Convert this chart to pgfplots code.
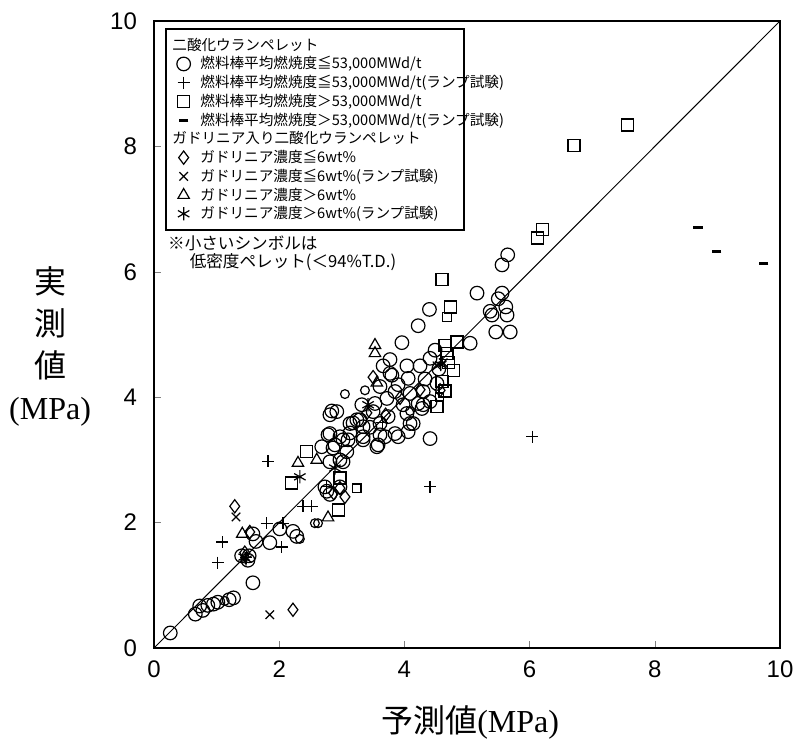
\documentclass[border=0pt]{standalone}
\usepackage{fontspec}
\setmainfont{Liberation Serif}
\newfontfamily\jp{Noto Sans CJK JP}
\newfontfamily\tickfont{Liberation Sans}
\usepackage{pgfplots}
\pgfplotsset{compat=1.18}
\newcommand\lgd[1]{\makebox[128pt][l]{#1}}

\begin{document}
\begin{tikzpicture}
\begin{axis}[
  name=ax, scale only axis, width=313pt, height=313.5pt,
  xmin=0, xmax=10, ymin=0, ymax=10,
  xtick={0,2,...,10}, ytick={0,2,...,10},
  tick pos=left, tick align=inside, major tick length=3.5pt,
  axis line style={line width=0.9pt},
  /pgf/number format/assume math mode=true,
  tick label style={font=\tickfont\fontsize{12}{14}\selectfont},
  xticklabel style={yshift=-3pt},
  yticklabel style={xshift=-5pt},
  xlabel={\jp 予測値\rmfamily(MPa)},
  ylabel={\begin{tabular}{@{}c@{}}\jp 実\\\jp 測\\\jp 値\\(MPa)\end{tabular}},
  label style={font=\fontsize{16}{21}\selectfont},
  xlabel style={at={(axis description cs:0.505,-0.118)}, anchor=center},
  ylabel style={rotate=-90, at={(axis description cs:-0.166,0.478)}, anchor=center},
  legend cell align=left,
  legend image code/.code={\draw[mark repeat=2,mark phase=2] plot coordinates {(0cm,0cm)(0.2cm,0cm)(0.4cm,0cm)};},
  legend style={at={(axis cs:0.18,9.89)}, anchor=north west, draw=black, line width=1pt,
    fill=white, inner xsep=3pt, inner ysep=3.5pt,
    font=\jp\fontsize{7.3}{8.8}\selectfont,
    nodes={inner sep=1pt, text depth=0.12em}, row sep=0pt,
    /tikz/every odd column/.append style={column sep=4pt}},
  mk/.style={only marks, mark options={draw=black, fill=none, line width=0.6pt, solid}},
]
% 1:1 line
\addplot[black, line width=0.5pt, forget plot] coordinates {(0,0)(10,10)};

\addlegendimage{empty legend}
\addlegendentry{\hspace*{-14pt}二酸化ウランペレット}

% UO2, burnup <= 53,000 MWd/t
\addplot[mk, mark=o, mark size=3.4pt] coordinates {
 (0.26,0.24)
 (0.66,0.54)(0.73,0.67)(0.78,0.60)(0.86,0.68)(0.95,0.70)(1.02,0.73)(1.20,0.77)(1.27,0.80)
 (1.58,1.04)(1.40,1.47)(1.52,1.47)(1.50,1.40)
 (1.58,1.82)(1.63,1.70)(1.85,1.68)(2.01,1.90)(2.22,1.86)(2.28,1.78)
 (2.73,2.57)(2.81,2.45)(2.97,2.57)(2.76,2.50)
 (2.81,3.72)(2.84,3.78)
 (2.68,3.21)(2.78,3.40)(2.89,3.24)(3.02,3.32)(3.13,3.43)(2.97,3.00)(3.18,3.59)(3.29,3.64)
 (3.34,3.32)(3.45,3.52)(3.56,3.21)(3.61,3.40)
 (3.77,4.60)(4.04,4.50)(4.25,4.50)(4.49,4.75)(4.41,4.62)(3.77,4.38)(4.06,4.30)(4.33,4.29)
 (4.52,4.22)(3.61,4.17)(3.85,4.09)(4.09,4.06)(4.30,4.09)(3.32,3.88)(3.53,3.90)
 (3.72,3.98)(3.98,3.88)(4.22,3.90)(4.41,3.93)(3.24,3.64)(3.50,3.77)(3.74,3.69)(4.04,3.74)
 (4.28,3.82)(2.92,3.77)(3.13,3.58)(3.34,3.53)(3.61,3.58)(3.85,3.42)(4.06,3.45)(4.09,3.58)
 (2.97,3.37)(3.10,3.32)(3.34,3.37)(3.58,3.24)(3.69,3.37)(3.90,3.37)(2.81,3.42)(2.86,3.19)
 (3.08,3.13)(3.02,2.97)(2.81,2.97)(4.41,3.34)
 (3.96,4.87)(4.22,5.14)(4.40,5.40)(5.16,5.66)(5.05,4.86)(5.56,6.11)(5.65,6.27)(5.56,5.66)
 (5.50,5.57)(5.62,5.44)(5.37,5.37)(5.40,5.31)(5.64,5.31)(5.46,5.04)(5.69,5.04)
 (3.80,4.35)(4.14,3.58)(4.30,3.88)(4.55,4.45)(3.66,4.50)(3.90,4.20)
};
\addlegendentry{\lgd{燃料棒平均燃焼度≦53,000MWd/t}}

% UO2, burnup <= 53,000 MWd/t, ramp test
\addplot[mk, mark=+, mark size=3pt] coordinates {
 (1.02,1.36)(1.09,1.69)(1.82,2.98)(1.80,1.99)(2.04,1.61)(2.06,1.99)(2.38,2.26)(2.52,2.26)
 (2.76,2.57)(3.65,3.60)(4.41,2.57)(6.04,3.37)(1.47,1.44)
};
\addlegendentry{\lgd{燃料棒平均燃焼度≦53,000MWd/t(ランプ試験)}}

% UO2, burnup > 53,000 MWd/t
\addplot[mk, mark=square, mark size=3pt] coordinates {
 (4.60,5.88)(4.73,5.44)(4.84,4.88)(4.65,4.83)(4.68,4.70)(4.70,4.55)(4.78,4.43)(4.60,4.25)
 (4.65,4.10)(4.52,3.85)(6.12,6.54)(6.21,6.67)(6.71,8.02)(7.57,8.34)(2.44,3.14)(2.20,2.63)
 (2.97,2.71)(2.95,2.20)
};
\addlegendentry{\lgd{燃料棒平均燃焼度＞53,000MWd/t}}

% UO2, burnup > 53,000 MWd/t, ramp test
\addplot[only marks, mark=-, mark size=2.3pt, mark options={draw=black, line width=1.5pt}] coordinates {
 (8.69,6.70)(8.99,6.32)(9.74,6.14)
};
\addlegendentry{\lgd{燃料棒平均燃焼度＞53,000MWd/t(ランプ試験)}}

\addlegendimage{empty legend}
\addlegendentry{\hspace*{-14pt}ガドリニア入り二酸化ウランペレット}

% Gd, <= 6 wt%
\addplot[mk, mark=diamond, mark size=3.3pt] coordinates {
 (1.29,2.26)(2.22,0.61)(1.53,1.85)(1.45,1.52)(2.97,2.55)(3.05,2.41)(2.87,2.47)(3.50,4.32)
 (3.93,3.99)(4.25,4.12)(4.57,4.11)(3.40,3.75)(3.70,3.72)
};
\addlegendentry{\lgd{ガドリニア濃度≦6wt\%}}

% Gd, <= 6 wt%, ramp test
\addplot[mk, mark=x, mark size=3pt] coordinates {
 (1.85,0.53)(1.31,2.09)(4.52,4.50)(4.62,4.55)
};
\addlegendentry{\lgd{ガドリニア濃度≦6wt\%(ランプ試験)}}

% Gd, > 6 wt%
\addplot[mk, mark=triangle, mark size=3.3pt] coordinates {
 (1.41,1.82)(2.30,2.95)(2.60,3.00)(2.78,2.08)(3.53,4.83)(3.53,4.70)(3.56,4.23)
};
\addlegendentry{\lgd{ガドリニア濃度＞6wt\%}}

% Gd, > 6 wt%, ramp test
\addplot[mk, mark=asterisk, mark size=3.3pt] coordinates {
 (1.44,1.45)(1.47,1.42)(2.33,2.73)(2.89,2.87)(3.42,3.88)(4.58,4.52)
};
\addlegendentry{\lgd{ガドリニア濃度＞6wt\%(ランプ試験)}}

% low density pellets (small symbols)
\addplot[mk, mark=o, mark size=2.2pt, forget plot] coordinates {
 (1.13,0.75)(2.33,1.74)(2.57,1.99)(2.62,1.99)(3.37,4.11)(4.09,3.78)(3.05,4.05)
};
\addplot[mk, mark=square, mark size=2.1pt, forget plot] coordinates {
 (4.68,5.28)(3.24,2.55)(4.56,4.00)
};

\node[anchor=north west, align=left, inner sep=0pt, font=\jp\fontsize{8.3}{9}\selectfont]
  at (axis cs:0.22,6.58) {※小さいシンボルは\\\hspace*{1.3em}低密度ペレット(＜94\%T.D.)};
\end{axis}
\pgfresetboundingbox
\path ([xshift=-77pt,yshift=-50.5pt]ax.south west) rectangle ([xshift=8pt,yshift=10.5pt]ax.north east);
\end{tikzpicture}
\end{document}
